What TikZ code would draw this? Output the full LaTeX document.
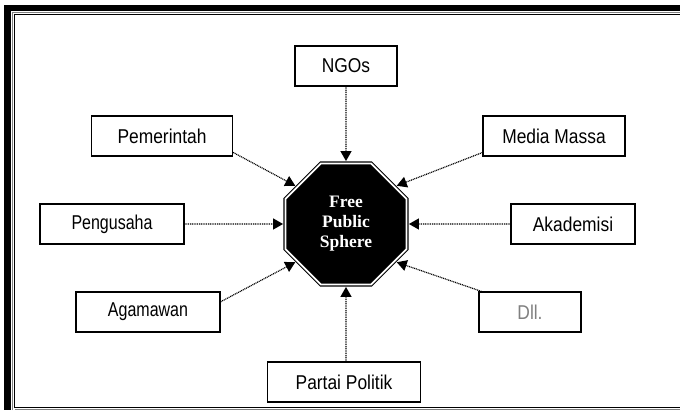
\documentclass[tikz,border=0pt]{standalone}
\usepackage{fontspec}
\setmainfont{Liberation Sans}[FakeStretch=0.87]
\newfontfamily\narrowfont{Liberation Sans}[FakeStretch=0.8]
\newfontfamily\spherefont{Liberation Serif}
\usepackage{xcolor}
\usetikzlibrary{arrows.meta,shapes.geometric,calc}
\tikzset{
  actor/.style={draw, line width=1.2pt, minimum height=40pt, inner sep=0pt,
                font=\fontsize{20}{22}\selectfont, fill=white},
  hub/.style={regular polygon, regular polygon sides=8, minimum size=131pt,
              fill=black, draw=black, line width=1.1pt, double=white,
              double distance=1.8pt, outer sep=2.4pt, inner sep=0pt,
              text=white, align=center,
              font=\spherefont\bfseries\fontsize{17.5}{20}\selectfont},
  link/.style={-{Triangle[length=10pt,width=11pt]}, line width=1.2pt,
               dash pattern=on 1pt off 0.8pt}
}

\begin{document}
\begin{tikzpicture}[x=1pt, y=1pt]
  \useasboundingbox (0,0) rectangle (680,410);
  % frame
  \fill (4,0) rectangle (11,405);
  \fill (4,399) rectangle (680,405);
  \draw[gray, line width=0.8pt] (12,0) -- (12,398) -- (680,398);
  \draw[gray, line width=0.8pt] (14.5,0.8) -- (680,0.8);
  \draw[line width=1.2pt] (680,2.5) -- (14.5,2.5) -- (14.5,395.5) -- (680,395.5);
  % centre
  \node[hub] (sphere) at (346,186) {Free\\Public\\Sphere};
  % actors
  \node[actor, minimum width=102pt] (ngo) at (346,344) {NGOs};
  \node[actor, minimum width=141pt] (pem) at (162,274) {Pemerintah};
  \node[actor, minimum width=142pt] (med) at (554,274) {Media Massa};
  \node[actor, minimum width=144pt, font=\narrowfont\fontsize{20}{22}\selectfont] (pen) at (112,186) {Pengusaha};
  \node[actor, minimum width=124pt] (aka) at (573,186) {Akademisi};
  \node[actor, minimum width=144pt, font=\narrowfont\fontsize{20}{22}\selectfont] (aga) at (148,98) {Agamawan};
  \node[actor, minimum width=102pt, text=black!50] (dll) at (530,98) {Dll.};
  \node[actor, minimum width=153pt] (par) at (344,28) {Partai Politik};
  % links
  \foreach \u/\v in {ngo.south/sphere.north, pen.east/sphere.west, aka.west/sphere.east,
                     pem.-13.5/sphere.143, med.193.5/sphere.37,
                     aga.8/sphere.217, dll.157/sphere.323}
    \draw[link] (\u) -- (\v);
  \draw[link] (par.north -| sphere) -- (sphere.south);
\end{tikzpicture}
\end{document}
